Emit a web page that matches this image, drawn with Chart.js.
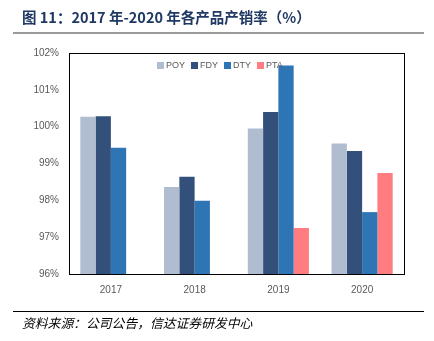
<!DOCTYPE html>
<html>
<head>
<meta charset="utf-8">
<script src="https://cdn.jsdelivr.net/npm/chart.js@4"></script>
<style>
  body { margin: 0; background: #fff; }
  #wrap { position: relative; width: 434px; height: 341px; overflow: hidden; }
  #title { position: absolute; left: 22px; top: 6px; font: bold 14.5px "Noto Sans CJK SC", sans-serif; color: #1f3864; white-space: nowrap; }
  #topline { position: absolute; left: 13px; top: 32px; width: 411px; height: 2px; background: #9a9a9a; }
  #botline { position: absolute; left: 13px; top: 311px; width: 411px; height: 1px; background: #000; }
  #source { position: absolute; left: 22px; top: 313px; font: italic 12.8px "Noto Sans CJK SC", sans-serif; color: #000; white-space: nowrap; }
  canvas { position: absolute; left: 0; top: 0; }
</style>
</head>
<body>
<div id="wrap">
  <canvas id="c" width="434" height="341"></canvas>
  <div id="title">图 11：2017 年-2020 年各产品产销率（%）</div>
  <div id="topline"></div>
  <div id="botline"></div>
  <div id="source">资料来源：公司公告，信达证券研发中心</div>
</div>
<script>
const years = ['2017', '2018', '2019', '2020']
const poy = [100.27, 98.36, 99.95, 99.54]
const fdy = [100.28, 98.64, 100.40, 99.34]
const dty = [99.43, 97.99, 101.66, 97.68]
const pta = [null, null, 97.25, 98.74]

const colors = ['#b0bcd0', '#33507a', '#2e75b6', '#ff7c80']

// box round the plot plus the little legend inside it
const boxAndLegend = {
  id: 'boxAndLegend',
  afterDatasetsDraw(chart) {
    const ctx = chart.ctx
    const a = chart.chartArea
    ctx.save()
    ctx.strokeStyle = '#000'
    ctx.lineWidth = 1
    ctx.strokeRect(a.left + 0.5, a.top + 0.5, a.right - a.left, a.bottom - a.top)
    ctx.font = '9px "Liberation Sans", Arial, sans-serif'
    ctx.textBaseline = 'middle'
    let x = 157
    const y = 65
    chart.data.datasets.forEach(ds => {
      ctx.fillStyle = ds.backgroundColor
      ctx.fillRect(x, y - 3, 7, 7)
      ctx.fillStyle = '#595959'
      ctx.fillText(ds.label, x + 9, y + 0.5)
      x += 9 + ctx.measureText(ds.label).width + 6
    })
    ctx.restore()
  }
}

new Chart(document.getElementById('c'), {
  type: 'bar',
  data: {
    labels: years,
    datasets: [
      { label: 'POY', data: poy, backgroundColor: colors[0] },
      { label: 'FDY', data: fdy, backgroundColor: colors[1] },
      { label: 'DTY', data: dty, backgroundColor: colors[2] },
      { label: 'PTA', data: pta, backgroundColor: colors[3] }
    ]
  },
  options: {
    responsive: false,
    animation: false,
    layout: { padding: { left: 0, right: 30, top: 53, bottom: 0 } },
    datasets: { bar: { barPercentage: 1, categoryPercentage: 0.73, base: 96 } },
    plugins: { legend: { display: false }, tooltip: { enabled: false } },
    scales: {
      x: {
        grid: { display: false, drawTicks: false },
        border: { display: false },
        ticks: { color: '#595959', padding: 10, font: { size: 10, family: '"Liberation Sans", Arial, sans-serif' } },
        afterFit(s) { s.height = 67 }
      },
      y: {
        min: 96, max: 102,
        grid: { display: false, drawTicks: false },
        border: { display: false },
        ticks: {
          stepSize: 1, padding: 10, color: '#595959',
          font: { size: 10, family: '"Liberation Sans", Arial, sans-serif' },
          callback: v => v + '%'
        },
        afterFit(s) { s.width = 69 }
      }
    }
  },
  plugins: [boxAndLegend]
})
</script>
</body>
</html>
